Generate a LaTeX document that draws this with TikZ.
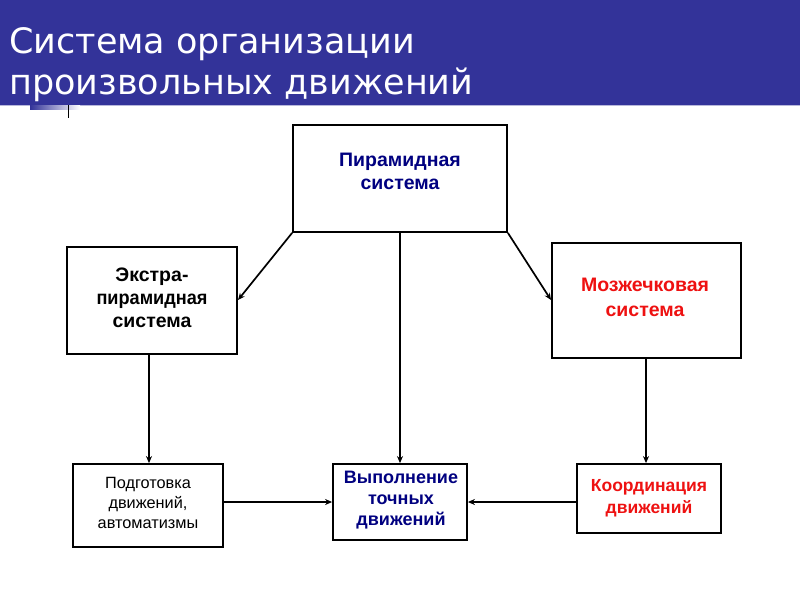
\documentclass[tikz,border=0pt]{standalone}
\usepackage{fontspec}
\setmainfont{Liberation Sans}
\newfontfamily\titlefont{DejaVu Sans}
\usetikzlibrary{arrows.meta}
\definecolor{barblue}{HTML}{333399}
\definecolor{navy}{HTML}{000080}
\definecolor{redtxt}{HTML}{EE1111}
\tikzset{
  box/.style={draw=black,line width=1.8pt,fill=white,inner sep=0pt},
  label/.style={inner sep=0pt,align=center},
  conn/.style={line width=1.7pt,-{Stealth[length=7pt,width=6pt]}}
}
\begin{document}
\begin{tikzpicture}[x=1pt,y=-1pt]
\useasboundingbox (0,0) rectangle (800,600);
\fill[white] (0,0) rectangle (800,600);
\fill[barblue] (0,0) rectangle (800,105);
\draw[barblue!35,line width=1.2pt] (0,105.6) -- (800,105.6);
\shade[left color=barblue,right color=white] (30,105) rectangle (80,109);
\draw[line width=1pt] (68,105) -- (68,118);
\node[anchor=north west,text=white,align=left,inner sep=0pt,font=\titlefont\fontsize{35}{41}\selectfont] (title) at (9,27) {Система организации\\произвольных движений};
% boxes
\node[box,minimum width=214pt,minimum height=107pt] (pyr) at (400,178.5) {};
\node[box,minimum width=170pt,minimum height=107pt] (ext) at (152,300.5) {};
\node[box,minimum width=189pt,minimum height=115pt] (cer) at (646.5,300.5) {};
\node[box,minimum width=150pt,minimum height=83pt] (prep) at (148,505.5) {};
\node[box,minimum width=134pt,minimum height=76pt] (exe) at (400,502) {};
\node[box,minimum width=144pt,minimum height=69pt] (coord) at (649,498.5) {};
% texts
\node[label,text=navy,font=\bfseries\fontsize{19.5}{23}\selectfont] (pyrt) at (400,171.5) {Пирамидная\\система};
\node[label,font=\bfseries\fontsize{19.5}{23}\selectfont] (extt) at (152,297.5) {Экстра-\\\scalebox{0.93}[1]{пирамидная}\\система};
\node[label,text=redtxt,font=\bfseries\fontsize{19.5}{24.5}\selectfont] (cert) at (645,297.5) {Мозжечковая\\система};
\node[label,font=\fontsize{16.3}{20}\selectfont] (prept) at (148,503) {Подготовка\\движений,\\автоматизмы};
\node[label,text=navy,font=\bfseries\fontsize{18}{21}\selectfont] (exet) at (401,500.5) {Выполнение\\точных\\движений};
\node[label,text=redtxt,font=\bfseries\fontsize{17.5}{21.5}\selectfont] (coordt) at (649,498) {Координация\\движений};
% connectors
\draw[conn] (pyr.south west) -- (238,300);
\draw[conn] (pyr.south east) -- (551,300);
\draw[conn] (pyr.south) -- (exe.north);
\draw[conn] (ext.south -| 149,0) -- (prep.north -| 149,0);
\draw[conn] (cer.south -| 646,0) -- (coord.north -| 646,0);
\draw[conn] (prep.east |- 0,502) -- (exe.west |- 0,502);
\draw[conn] (coord.west |- 0,502) -- (exe.east |- 0,502);
\end{tikzpicture}
\end{document}
